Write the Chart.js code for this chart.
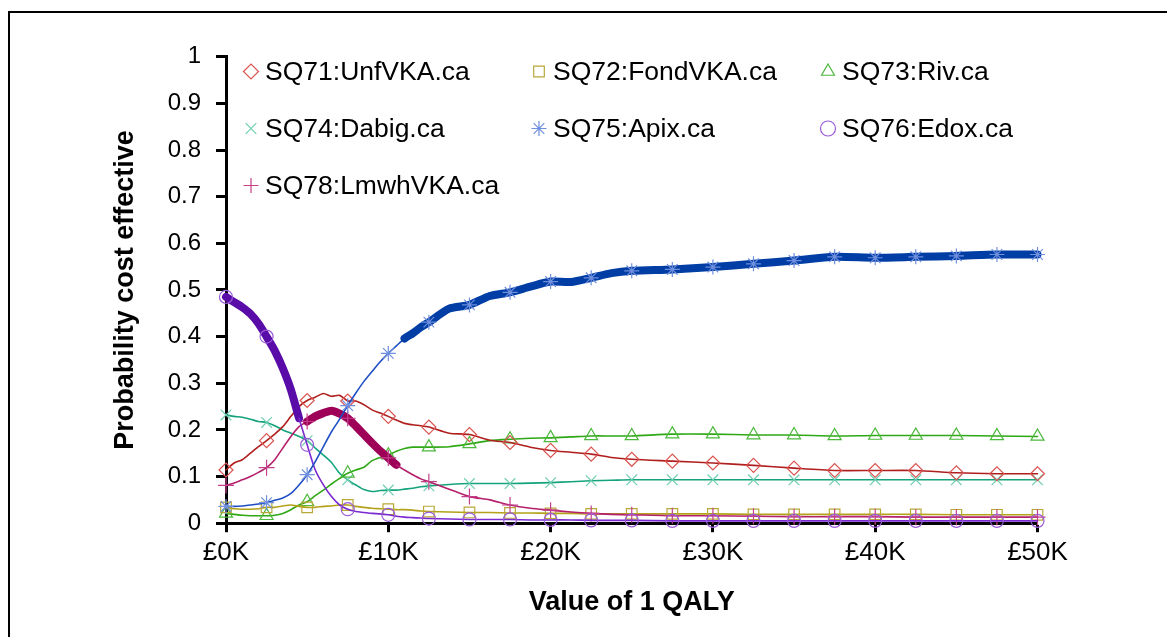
<!DOCTYPE html>
<html><head><meta charset="utf-8">
<script src="https://cdn.jsdelivr.net/npm/chart.js@4.4.1/dist/chart.umd.min.js"></script>
<style>
html,body{margin:0;padding:0;background:#fff;overflow:hidden}
#wrap{position:relative;width:1167px;height:637px}
#frame{position:absolute;left:8px;top:11px;width:1200px;height:700px;border-left:2px solid #000;border-top:2px solid #000;pointer-events:none}
canvas{position:absolute;left:0;top:0}
</style></head><body>
<div id="wrap"><canvas id="c" width="1167" height="637"></canvas><div id="frame"></div></div>
<script>
// x values (£ thousand per QALY)
const xValues = [0,0.5,1,1.5,2,2.5,3,3.5,4,4.5,5,5.5,6,6.5,7,7.5,8,8.5,9,9.5,10,10.5,11,11.5,12,12.5,
  13.75,15,16.25,17.5,18.75,20,21.25,22.5,23.75,25,
  27.5,30,32.5,35,37.5,40,42.5,45,47.5,50];

const seriesLabels = ['SQ71:UnfVKA.ca','SQ72:FondVKA.ca','SQ73:Riv.ca','SQ74:Dabig.ca','SQ75:Apix.ca','SQ76:Edox.ca','SQ78:LmwhVKA.ca'];

const unfVKA = [0.114,0.129,0.136,0.150,0.164,0.177,0.191,0.207,0.229,0.250,0.263,0.270,0.278,0.272,0.274,0.262,0.262,0.254,0.243,0.236,0.229,0.221,0.214,0.211,0.209,0.206,
  0.193,0.190,0.178,0.173,0.163,0.156,0.152,0.148,0.141,0.137,
  0.133,0.129,0.124,0.118,0.113,0.113,0.113,0.108,0.106,0.106];
const fondVKA = [0.034,0.031,0.030,0.030,0.031,0.034,0.034,0.037,0.039,0.036,0.034,0.034,0.036,0.037,0.039,0.039,0.036,0.034,0.032,0.031,0.030,0.029,0.029,0.028,0.026,0.025,
  0.024,0.023,0.023,0.022,0.022,0.021,0.021,0.020,0.020,0.020,
  0.020,0.020,0.019,0.019,0.019,0.019,0.019,0.018,0.018,0.018];
const riv = [0.021,0.019,0.017,0.016,0.016,0.016,0.017,0.021,0.029,0.039,0.046,0.059,0.071,0.084,0.096,0.107,0.114,0.120,0.134,0.141,0.146,0.154,0.160,0.163,0.163,0.163,
  0.164,0.170,0.177,0.180,0.182,0.183,0.185,0.187,0.187,0.187,
  0.191,0.191,0.189,0.189,0.187,0.188,0.188,0.188,0.187,0.186];
const dabig = [0.232,0.229,0.227,0.223,0.218,0.216,0.209,0.200,0.193,0.186,0.177,0.161,0.146,0.130,0.107,0.093,0.082,0.072,0.068,0.070,0.071,0.071,0.073,0.075,0.078,0.080,
  0.083,0.085,0.085,0.085,0.086,0.087,0.089,0.091,0.092,0.093,
  0.093,0.093,0.093,0.093,0.093,0.093,0.093,0.093,0.093,0.093];
const apix = [0.036,0.036,0.037,0.039,0.041,0.044,0.049,0.054,0.064,0.082,0.104,0.132,0.164,0.196,0.223,0.252,0.279,0.304,0.325,0.346,0.364,0.380,0.396,0.407,0.420,0.431,
  0.460,0.468,0.487,0.495,0.507,0.518,0.517,0.526,0.536,0.541,
  0.544,0.549,0.556,0.563,0.571,0.569,0.571,0.573,0.576,0.576];
const edox = [0.485,0.474,0.463,0.449,0.428,0.400,0.370,0.332,0.286,0.225,0.168,0.114,0.082,0.057,0.039,0.030,0.025,0.023,0.021,0.020,0.018,0.015,0.013,0.012,0.011,0.010,
  0.009,0.008,0.008,0.008,0.007,0.007,0.007,0.006,0.006,0.006,
  0.005,0.005,0.005,0.005,0.005,0.005,0.005,0.005,0.005,0.005];
const lmwhVKA = [0.081,0.086,0.093,0.100,0.109,0.119,0.136,0.161,0.186,0.207,0.218,0.229,0.236,0.241,0.235,0.225,0.208,0.190,0.172,0.155,0.140,0.125,0.114,0.104,0.095,0.089,
  0.073,0.057,0.050,0.039,0.032,0.028,0.024,0.021,0.019,0.018,
  0.016,0.016,0.015,0.014,0.014,0.014,0.013,0.013,0.013,0.013];

// range (in £K) where each strategy is the optimal one (drawn thick); null = never
const optimalFrom = [null,null,null,null,11,0,5];
const optimalTo   = [null,null,null,null,50,4.5,10.5];

const yTicks = [0,0.1,0.2,0.3,0.4,0.5,0.6,0.7,0.8,0.9,1];

const seriesValues = [unfVKA, fondVKA, riv, dabig, apix, edox, lmwhVKA];
const styles = [
  {line:'#B01E1E', thick:'#B01E1E', marker:'#D9534F', shape:'rectRot', r:7},
  {line:'#B3A21A', thick:'#B3A21A', marker:'#B8A838', shape:'rect', r:7.5},
  {line:'#2EA815', thick:'#2EA815', marker:'#4CB83C', shape:'triangle', r:7.5},
  {line:'#14A37C', thick:'#14A37C', marker:'#6FCDB0', shape:'crossRot', r:7.5},
  {line:'#1F4FC4', thick:'#003DA5', marker:'#6F8FDF', shape:'star', r:7.5},
  {line:'#7A2AD0', thick:'#5A0CA8', marker:'#9A5CD6', shape:'circle', r:6.5},
  {line:'#B5206C', thick:'#9E0058', marker:'#C4408A', shape:'cross', r:8}
];

const datasets = seriesLabels.map((label, i) => {
  const st = styles[i];
  const from = optimalFrom[i], to = optimalTo[i];
  const isThick = c => from !== null && c.p0.parsed.x >= from - 1e-9 && c.p1.parsed.x <= to + 1e-9;
  return {
    label,
    data: xValues.map((x, k) => ({x, y: seriesValues[i][k]})),
    borderColor: st.line,
    borderWidth: 1.6,
    borderCapStyle: 'round',
    borderJoinStyle: 'round',
    tension: 0.25,
    segment: {
      borderWidth: c => isThick(c) ? 8 : 1.6,
      borderColor: c => isThick(c) ? st.thick : st.line
    },
    pointStyle: st.shape,
    pointRadius: c => (xValues[c.dataIndex] % 2.5 === 0) ? st.r : 0,
    pointBorderColor: st.marker,
    pointBackgroundColor: 'rgba(0,0,0,0)',
    pointBorderWidth: 1.2,
    order: from !== null ? 0 : 1,
    clip: false
  };
});

const gridLegend = {
  id: 'gridLegend',
  afterDraw(chart) {
    const ctx = chart.ctx;
    ctx.save();
    chart.data.datasets.forEach((ds, i) => {
      const col = i % 3, row = Math.floor(i / 3);
      const mx = [251, 539, 828][col], my = 71.5 + row * 57;
      ctx.strokeStyle = ds.pointBorderColor;
      ctx.fillStyle = 'rgba(0,0,0,0)';
      ctx.lineWidth = 1.2;
      Chart.helpers.drawPoint(ctx, {pointStyle: ds.pointStyle, radius: 7.5, borderWidth: 1.2, rotation: 0}, mx, my);
      ctx.fillStyle = '#000';
      ctx.font = '26.5px "Liberation Sans", Arial, sans-serif';
      ctx.textBaseline = 'middle';
      ctx.textAlign = 'left';
      ctx.fillText(ds.label, mx + 14, my + 1);
    });
    ctx.restore();
  }
};

new Chart(document.getElementById('c'), {
  type: 'line',
  data: {datasets},
  plugins: [gridLegend],
  options: {
    responsive: false,
    animation: false,
    events: [],
    layout: {padding: {left: 105, right: 129.5, top: 56.7, bottom: 13.8}},
    plugins: {legend: {display: false}, tooltip: {enabled: false}},
    scales: {
      x: {
        type: 'linear', min: 0, max: 50,
        afterFit: s => { s.height = 100; },
        ticks: {stepSize: 10, padding: 5, color: '#000',
          font: {family: '"Liberation Sans", Arial, sans-serif', size: 26},
          callback: v => '£' + v + 'K'},
        grid: {display: true, drawOnChartArea: false, drawTicks: true, tickLength: 9, tickWidth: 3, tickColor: '#000'},
        border: {display: true, color: '#000', width: 3},
        title: {display: true, text: 'Value of 1 QALY', color: '#000',
          font: {family: '"Liberation Sans", Arial, sans-serif', size: 27, weight: 'bold'}}
      },
      y: {
        type: 'linear', min: 0, max: 1,
        afterFit: s => { s.width = 121; },
        afterBuildTicks: s => { s.ticks = yTicks.map(v => ({value: v})); },
        ticks: {padding: 15, color: '#000',
          font: {family: '"Liberation Sans", Arial, sans-serif', size: 24},
          callback: v => String(Number(v.toFixed(1)))},
        grid: {display: true, drawOnChartArea: false, drawTicks: true, tickLength: 10, tickWidth: 3, tickColor: '#000'},
        border: {display: true, color: '#000', width: 3},
        title: {display: true, text: 'Probability cost effective', color: '#000',
          font: {family: '"Liberation Sans", Arial, sans-serif', size: 27, weight: 'bold'}}
      }
    }
  }
});
</script>
</body></html>
